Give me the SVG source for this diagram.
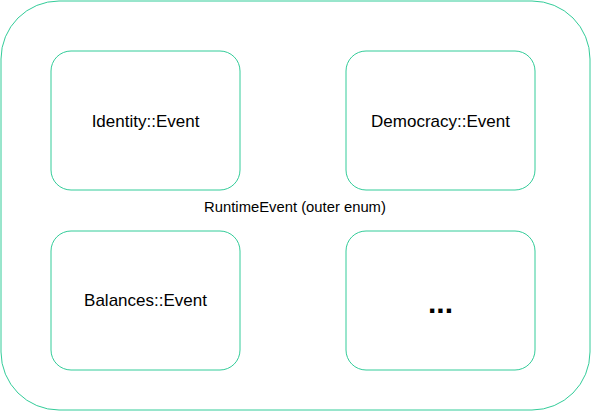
<svg xmlns="http://www.w3.org/2000/svg" width="591" height="411" viewBox="0 0 591 411">
<style>
.box{fill:#ffffff;stroke:#33cc99;stroke-width:1}
.lbl{font-family:"Liberation Sans",Arial,sans-serif;font-size:17px;fill:#000;text-anchor:middle;dominant-baseline:central}
</style>
<rect width="591" height="411" fill="#ffffff"/>
<g id="outer">
<rect class="box" x="1" y="1" width="589" height="409" rx="58" ry="58"/>
<text class="lbl" x="295" y="207" style="font-size:14.8px">RuntimeEvent (outer enum)</text>
</g>
<g id="identity">
<rect class="box" x="51" y="51" width="189" height="139" rx="20" ry="20"/>
<text class="lbl" x="145.5" y="121">Identity::Event</text>
</g>
<g id="democracy">
<rect class="box" x="346" y="51" width="189" height="139" rx="20" ry="20"/>
<text class="lbl" x="440.5" y="121">Democracy::Event</text>
</g>
<g id="balances">
<rect class="box" x="51" y="231" width="189" height="139" rx="20" ry="20"/>
<text class="lbl" x="145.5" y="300">Balances::Event</text>
</g>
<g id="more">
<rect class="box" x="346" y="231" width="189" height="139" rx="20" ry="20"/>
<text class="lbl" x="440.5" y="302" style="font-size:30px;font-weight:bold">...</text>
</g>
<g id="connectors"></g>
</svg>
